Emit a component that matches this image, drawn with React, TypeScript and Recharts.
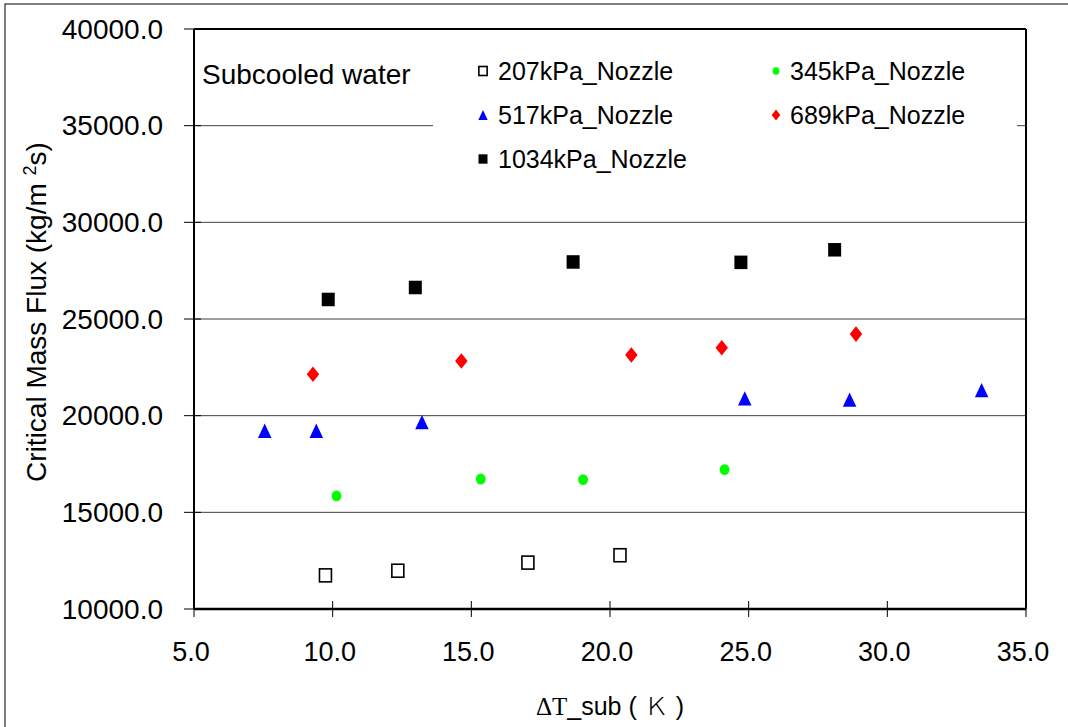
import React from 'react';
import {
  ScatterChart,
  Scatter,
  XAxis,
  YAxis,
  CartesianGrid,
  Legend,
  ReferenceLine,
  Customized,
} from 'recharts';

// ---- data ----
const seriesNames = ['207kPa_Nozzle', '345kPa_Nozzle', '517kPa_Nozzle', '689kPa_Nozzle', '1034kPa_Nozzle'];

const p207X = [9.74, 12.35, 17.04, 20.36];
const p207Y = [11740, 11980, 12400, 12780];

const p345X = [10.14, 15.34, 19.03, 24.13];
const p345Y = [15850, 16720, 16690, 17210];

const p517X = [7.55, 9.41, 13.22, 24.86, 28.64, 33.4];
const p517Y = [19220, 19220, 19670, 20890, 20830, 21320];

const p689X = [9.29, 14.64, 20.77, 24.03, 28.87];
const p689Y = [22140, 22830, 23140, 23510, 24220];

const p1034X = [9.84, 12.98, 18.67, 24.72, 28.1];
const p1034Y = [26010, 26630, 27950, 27930, 28580];

const xTicks = [5, 10, 15, 20, 25, 30, 35];
const yTicks = [10000, 15000, 20000, 25000, 30000, 35000, 40000];

const annotation = 'Subcooled water';
const xLabel = ['Δ', 'T', '_sub ( ', 'Ｋ', ' )'];
const yLabelMain = 'Critical Mass Flux (kg/m ';
const yLabelSup = '2';
const yLabelEnd = 's)';

const zip = (xs: number[], ys: number[]) => xs.map((x, i) => ({ x, y: ys[i] }));

const data207 = zip(p207X, p207Y);
const data345 = zip(p345X, p345Y);
const data517 = zip(p517X, p517Y);
const data689 = zip(p689X, p689Y);
const data1034 = zip(p1034X, p1034Y);

const FONT = '"Liberation Sans", Arial, sans-serif';

type Kind = 'openSquare' | 'circle' | 'triangle' | 'diamond' | 'square';
const kinds: Kind[] = ['openSquare', 'circle', 'triangle', 'diamond', 'square'];
const colors = ['#000000', '#00ff00', '#0000ff', '#ff0000', '#000000'];

function marker(kind: Kind, cx: number, cy: number, s: number) {
  switch (kind) {
    case 'openSquare':
      return <rect x={cx - 0.46 * s} y={cy - 0.5 * s} width={0.92 * s} height={s} fill="#fff" stroke="#000" strokeWidth={1.6} />;
    case 'circle':
      return <ellipse cx={cx} cy={cy} rx={0.38 * s} ry={0.42 * s} fill="#00ff00" />;
    case 'triangle':
      return (
        <polygon
          points={`${cx},${cy - 0.55 * s} ${cx + 0.52 * s},${cy + 0.55 * s} ${cx - 0.52 * s},${cy + 0.55 * s}`}
          fill="#0000ff"
        />
      );
    case 'diamond':
      return (
        <polygon
          points={`${cx},${cy - 0.6 * s} ${cx + 0.48 * s},${cy} ${cx},${cy + 0.6 * s} ${cx - 0.48 * s},${cy}`}
          fill="#ff0000"
        />
      );
    case 'square':
    default:
      return <rect x={cx - 0.5 * s} y={cy - 0.52 * s} width={s} height={1.04 * s} fill="#000" />;
  }
}

const makeShape = (kind: Kind) => (props: any) => {
  const { cx, cy } = props;
  if (cx == null || cy == null) return <g />;
  return marker(kind, cx, cy, 13);
};

const LegendContent = (props: any) => {
  const payload = [...(props.payload || [])].sort(
    (a: any, b: any) => seriesNames.indexOf(a.value) - seriesNames.indexOf(b.value)
  );
  return (
    <svg width={584} height={140} style={{ display: 'block' }}>
      {payload.map((entry: any, i: number) => {
        const idx = seriesNames.indexOf(entry.value);
        const col = i % 2;
        const row = Math.floor(i / 2);
        const mx = col === 0 ? 50 : 343;
        const tx = col === 0 ? 65 : 357;
        const my = 26 + row * 44;
        return (
          <g key={entry.value}>
            {marker(kinds[idx], mx, my, 9)}
            <text x={tx} y={my + 8.5} fontFamily={FONT} fontSize={25} fill="#000">
              {entry.value}
            </text>
          </g>
        );
      })}
    </svg>
  );
};

const XTick = (props: any) => {
  const { x, y, payload } = props;
  const axisY = y - 8;
  return (
    <g>
      <line x1={x} x2={x} y1={axisY - 8} y2={axisY} stroke="#000" strokeWidth={1} />
      <text x={x - 3} y={axisY + 52} textAnchor="middle" fontFamily={FONT} fontSize={27} fill="#000">
        {Number(payload.value).toFixed(1)}
      </text>
    </g>
  );
};

const YTick = (props: any) => {
  const { x, y, payload } = props;
  const axisX = x + 10;
  return (
    <g>
      <line x1={axisX} x2={axisX + 7} y1={y} y2={y} stroke="#000" strokeWidth={1} />
      <text x={axisX - 31} y={y} dy={9.5} textAnchor="end" fontFamily={FONT} fontSize={28} fill="#000">
        {Number(payload.value).toFixed(1)}
      </text>
    </g>
  );
};

const Decorations = () => (
  <g>
    <rect x={5} y={4} width={1080} height={740} fill="none" stroke="#000" strokeWidth={1} />
    <text x={202} y={84} fontFamily={FONT} fontSize={28} fill="#000">
      {annotation}
    </text>
    <text
      transform="translate(46,312) rotate(-90)"
      textAnchor="middle"
      fontFamily={FONT}
      fontSize={28}
      fill="#000"
    >
      {yLabelMain}
      <tspan dy={-10} fontSize={18}>
        {yLabelSup}
      </tspan>
      <tspan dy={10}>{yLabelEnd}</tspan>
    </text>
    <text x={610} y={715} textAnchor="middle" fontFamily={FONT} fontSize={25} fill="#000">
      <tspan fontFamily='"Liberation Serif", "Times New Roman", serif'>{xLabel[0]}</tspan>
      <tspan fontFamily='"Liberation Serif", "Times New Roman", serif'>{xLabel[1]}</tspan>
      <tspan>{xLabel[2]}</tspan>
      <tspan fontFamily='"Noto Sans CJK JP", sans-serif' fontWeight={300} fill="#000">{xLabel[3]}</tspan>
      <tspan>{xLabel[4]}</tspan>
    </text>
  </g>
);

export default function App() {
  return (
    <div style={{ position: 'absolute', left: 0, top: 0, width: 1068, height: 727, background: '#fff' }}>
      <ScatterChart
        width={1068}
        height={727}
        margin={{ top: 29, right: 42, bottom: 0, left: 0 }}
        style={{ fontFamily: FONT }}
      >
        <CartesianGrid horizontal vertical={false} stroke="#404040" strokeWidth={1} />
        <XAxis
          type="number"
          dataKey="x"
          domain={[5, 35]}
          ticks={xTicks}
          interval={0}
          height={118}
          tickSize={8}
          tickMargin={0}
          axisLine={{ stroke: '#000', strokeWidth: 2.5 }}
          tickLine={{ stroke: '#000', strokeWidth: 1 }}
          tick={<XTick />}
          allowDataOverflow
        />
        <YAxis
          type="number"
          dataKey="y"
          domain={[10000, 40000]}
          ticks={yTicks}
          interval={0}
          width={194}
          tickSize={10}
          tickMargin={0}
          axisLine={{ stroke: '#000', strokeWidth: 2 }}
          tickLine={{ stroke: '#000', strokeWidth: 1 }}
          tick={<YTick />}
          allowDataOverflow
        />
        <ReferenceLine y={40000} stroke="#000" strokeWidth={2} ifOverflow="visible" />
        <ReferenceLine x={35} stroke="#000" strokeWidth={2} ifOverflow="visible" />
        <Legend
          layout="horizontal"
          verticalAlign="middle"
          align="center"
          itemSorter={null as any}
          content={<LegendContent />}
          wrapperStyle={{ position: 'absolute', left: 433, top: 45, width: 584, height: 140, background: '#fff' }}
        />
        <Scatter name={seriesNames[0]} data={data207} fill={colors[0]} shape={makeShape(kinds[0])} isAnimationActive={false} />
        <Scatter name={seriesNames[1]} data={data345} fill={colors[1]} shape={makeShape(kinds[1])} isAnimationActive={false} />
        <Scatter name={seriesNames[2]} data={data517} fill={colors[2]} shape={makeShape(kinds[2])} isAnimationActive={false} />
        <Scatter name={seriesNames[3]} data={data689} fill={colors[3]} shape={makeShape(kinds[3])} isAnimationActive={false} />
        <Scatter name={seriesNames[4]} data={data1034} fill={colors[4]} shape={makeShape(kinds[4])} isAnimationActive={false} />
        <Customized component={Decorations} />
      </ScatterChart>
    </div>
  );
}
